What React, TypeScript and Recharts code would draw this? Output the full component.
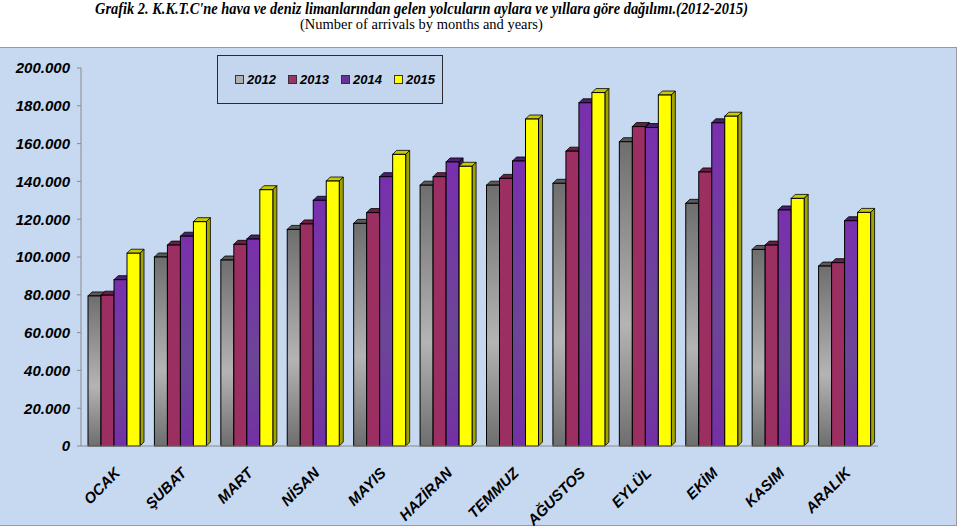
import React from 'react';
import { BarChart, Bar, XAxis, YAxis } from 'recharts';

const months = ['OCAK', 'ŞUBAT', 'MART', 'NİSAN', 'MAYIS', 'HAZİRAN', 'TEMMUZ', 'AĞUSTOS', 'EYLÜL', 'EKİM', 'KASIM', 'ARALIK'];
const y2012 = [79400, 100000, 98400, 114600, 117800, 138000, 138000, 139000, 161000, 128400, 104000, 95200];
const y2013 = [79800, 106300, 106700, 117500, 123500, 142500, 141600, 156000, 169000, 145000, 106300, 97000];
const y2014 = [88000, 111000, 109500, 130000, 142500, 150300, 150800, 181600, 168500, 171000, 124900, 119200];
const y2015 = [102000, 118700, 135600, 140200, 154300, 148000, 173000, 187000, 185700, 174500, 131000, 123600];
const yTicks = [0, 20000, 40000, 60000, 80000, 100000, 120000, 140000, 160000, 180000, 200000];
const seriesNames = ['2012', '2013', '2014', '2015'];

const data = months.map((m, i) => ({
  month: m,
  '2012': y2012[i],
  '2013': y2013[i],
  '2014': y2014[i],
  '2015': y2015[i],
}));

const seriesStyle: Record<string, { fill: string; top: string; side: string; legend: string }> = {
  '2012': { fill: 'url(#gGray)', top: '#5a5a5a', side: '#4a4a4a', legend: '#b0b0b0' },
  '2013': { fill: '#9c2f62', top: '#6a1f43', side: '#5e1b3b', legend: '#993366' },
  '2014': { fill: 'url(#gPurple)', top: '#4a1f6e', side: '#3f1a5e', legend: '#663399' },
  '2015': { fill: '#ffff00', top: '#c9c900', side: '#a3a300', legend: '#ffff00' },
};

const D = 4;

const make3D = (key: string) => (props: any) => {
  const { x, y, width, height } = props;
  if (height == null || width == null) return <g />;
  const s = seriesStyle[key];
  return (
    <g>
      <polygon
        points={`${x},${y} ${x + D},${y - D} ${x + width + D},${y - D} ${x + width},${y}`}
        fill={s.top}
        stroke="#000"
        strokeWidth={0.8}
      />
      <polygon
        points={`${x + width},${y} ${x + width + D},${y - D} ${x + width + D},${y + height - D} ${x + width},${y + height}`}
        fill={s.side}
        stroke="#000"
        strokeWidth={0.8}
      />
      <rect x={x} y={y} width={width} height={height} fill={s.fill} stroke="#000" strokeWidth={1} />
    </g>
  );
};

const fmt = (v: number) => (v === 0 ? '0' : `${Math.round(v / 1000)}.000`);

const XTick = (props: any) => {
  const { x, y, payload } = props;
  const ax = x - 1;
  const ay = y + 12;
  return (
    <text
      x={ax}
      y={ay}
      transform={`rotate(-45, ${ax}, ${ay})`}
      textAnchor="end"
      dominantBaseline="hanging"
      fontFamily="Arial, 'Liberation Sans', sans-serif"
      fontWeight="bold"
      fontStyle="italic"
      fontSize={15}
      fill="#000"
    >
      {payload.value}
    </text>
  );
};

export default function App() {
  return (
    <div style={{ position: 'absolute', left: 0, top: 0, width: 959, height: 529, background: '#fff', overflow: 'hidden' }}>
      <svg width={0} height={0} style={{ position: 'absolute' }}>
        <defs>
          <linearGradient id="gGray" x1="0" y1="0" x2="0" y2="1">
            <stop offset="0%" stopColor="#6e6e6e" />
            <stop offset="60%" stopColor="#b4b4b4" />
            <stop offset="100%" stopColor="#6e6e6e" />
          </linearGradient>
          <linearGradient id="gPurple" x1="0" y1="0" x2="0" y2="1">
            <stop offset="0%" stopColor="#7a2fae" />
            <stop offset="60%" stopColor="#6c4696" />
            <stop offset="100%" stopColor="#7430a6" />
          </linearGradient>
        </defs>
      </svg>
      <div
        style={{
          position: 'absolute',
          left: 95,
          top: 0,
          fontFamily: "'Liberation Serif', 'Times New Roman', serif",
          fontWeight: 'bold',
          fontStyle: 'italic',
          fontSize: 16,
          lineHeight: '18px',
          whiteSpace: 'nowrap',
          transform: 'scaleX(0.9)',
          transformOrigin: '0 0',
        }}
      >
        Grafik 2. K.K.T.C'ne hava ve deniz limanlarından gelen yolcuların aylara ve yıllara göre dağılımı.(2012-2015)
      </div>
      <div
        style={{
          position: 'absolute',
          left: 300,
          top: 16,
          fontFamily: "'Liberation Serif', 'Times New Roman', serif",
          fontSize: 15,
          lineHeight: '17px',
          whiteSpace: 'nowrap',
          transform: 'scaleX(0.965)',
          transformOrigin: '0 0',
        }}
      >
        (Number of arrivals by months and years)
      </div>
      <div
        style={{
          position: 'absolute',
          left: -1,
          top: 47,
          width: 958,
          height: 479,
          background: '#c6d9f1',
          border: '1px solid #9a9a9a',
          boxSizing: 'border-box',
        }}
      />
      <div
        style={{
          position: 'absolute',
          left: 217,
          top: 55,
          width: 226,
          height: 49,
          border: '1px solid #2b2b2b',
          background: '#c3d6ee',
          boxSizing: 'border-box',
          fontFamily: "Arial, 'Liberation Sans', sans-serif",
          fontWeight: 'bold',
          fontStyle: 'italic',
          fontSize: 13,
        }}
      >
        {seriesNames.map((n, i) => (
          <div key={n} style={{ position: 'absolute', left: 17 + i * 53, top: 16, display: 'flex', alignItems: 'center' }}>
            <span
              style={{
                display: 'inline-block',
                width: 7,
                height: 7,
                border: '1px solid #333',
                background: seriesStyle[n].legend,
                marginRight: 3,
              }}
            />
            <span>{n}</span>
          </div>
        ))}
      </div>
      <div style={{ position: 'absolute', left: 0, top: 0 }}>
        <BarChart
          width={959}
          height={529}
          data={data}
          margin={{ top: 68, right: 81, bottom: 0, left: 0 }}
          barCategoryGap={7}
          barGap={0}
        >
          <XAxis
            dataKey="month"
            height={83}
            tickLine={false}
            axisLine={{ stroke: '#8a8a8a' }}
            tick={<XTick />}
            interval={0}
          />
          <YAxis
            width={81}
            domain={[0, 200000]}
            ticks={yTicks}
            tickFormatter={fmt}
            tickSize={4}
            tickMargin={7}
            axisLine={{ stroke: '#8a8a8a' }}
            tickLine={{ stroke: '#8a8a8a' }}
            tick={{ fill: '#000', fontSize: 15, fontWeight: 'bold', fontStyle: 'italic', fontFamily: "Arial, 'Liberation Sans', sans-serif" }}
          />
          {seriesNames.map((n) => (
            <Bar key={n} dataKey={n} name={n} isAnimationActive={false} shape={make3D(n)} />
          ))}
        </BarChart>
      </div>
    </div>
  );
}
